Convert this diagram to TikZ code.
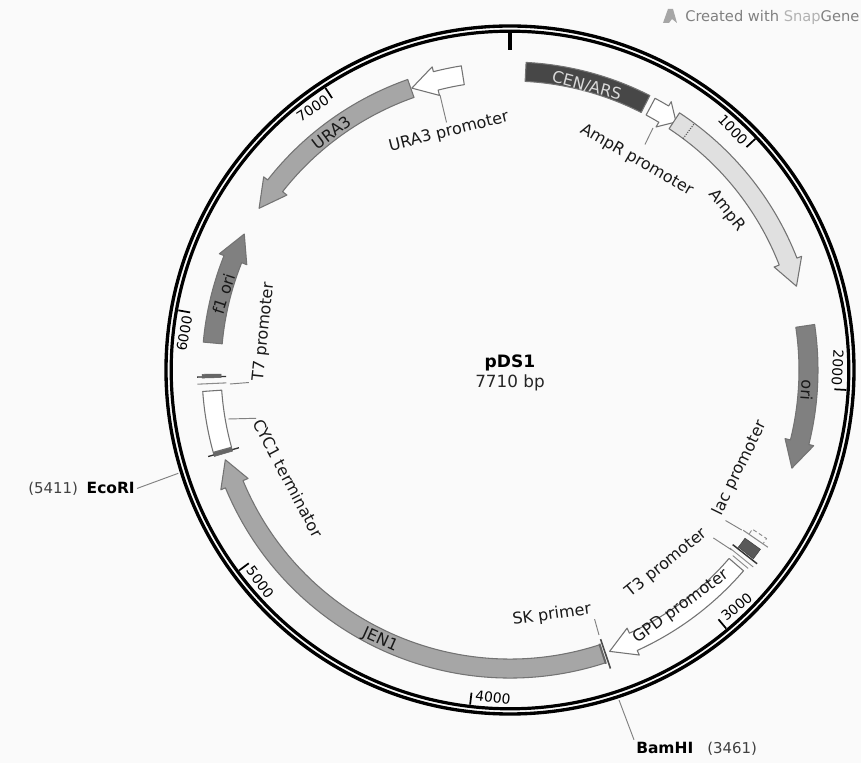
\documentclass[tikz,border=0pt]{standalone}
\usepackage{fontspec}
\setmainfont{DejaVu Sans}
\usepackage{tikz}
\usetikzlibrary{arrows.meta, positioning, calc}

% arc arrow: style, start angle, angle of head base, angle of tip
\newcommand{\featarrow}[4]{
\draw[#1] (#2:308) arc[start angle=#2, end angle=#3, radius=308] -- (#3:313) -- (#4:298.5) -- (#3:283.5) -- (#3:289) arc[start angle=#3, end angle=#2, radius=289] -- cycle;
}
% arc band: style, start angle, end angle
\newcommand{\featband}[3]{
\draw[#1] (#2:308) arc[start angle=#2, end angle=#3, radius=308] -- (#3:289) arc[start angle=#3, end angle=#2, radius=289] -- cycle;
}

\begin{document}
\begin{tikzpicture}[
    x=0.75pt, y=0.75pt,
    feature/.style={draw=black!55, fill=#1, line width=0.8pt, line join=round},
    feature/.default={white},
    leader/.style={draw=black!50, line width=0.7pt},
    tick/.style={black, line width=1.3pt},
    ticklabel/.style={font=\fontsize{10.4}{12}\selectfont, inner sep=3pt},
    label/.style={font=\fontsize{12}{14}\selectfont, text=black!90, inner sep=1.5pt},
    sitename/.style={font=\fontsize{11.6}{14}\selectfont\bfseries, inner sep=1.5pt},
    sitenum/.style={font=\fontsize{11.2}{14}\selectfont, text=black!75, inner sep=1.5pt}
]
\useasboundingbox (-510,-393) rectangle (351,370);
\fill[black!2] (-510,-393) rectangle (351,370);

% === BACKBONE ===
\draw[black, line width=2.5pt] (0,0) circle[radius=344];
\draw[black, line width=2.4pt] (0,0) circle[radius=338.8];
\draw[black, line width=2.8pt] (90:340) -- (90:320);

% === TICKS ===
\draw[tick] (43.3:337) -- (43.3:325);
\draw[tick] (-3.4:337) -- (-3.4:325);
\draw[tick] (-50.1:337) -- (-50.1:325);
\draw[tick] (-96.8:337) -- (-96.8:325);
\draw[tick] (-143.5:337) -- (-143.5:325);
\draw[tick] (169.8:337) -- (169.8:325);
\draw[tick] (123.2:337) -- (123.2:325);

\node[ticklabel, anchor=east, rotate=-46.7] (t1000) at (43.3:327) {1000};
\node[ticklabel, anchor=east, rotate=-93.4] (t2000) at (-3.4:327) {2000};
\node[ticklabel, anchor=west, rotate=39.9] (t3000) at (-50.1:327) {3000};
\node[ticklabel, anchor=west, rotate=-6.8] (t4000) at (-96.8:327) {4000};
\node[ticklabel, anchor=west, rotate=-53.5] (t5000) at (-143.5:327) {5000};
\node[ticklabel, anchor=east, rotate=79.8] (t6000) at (169.8:327) {6000};
\node[ticklabel, anchor=east, rotate=33.2] (t7000) at (123.2:327) {7000};

% === FEATURES ===
\featband{feature=black!72}{87}{63}
\featarrow{feature}{61.9}{59}{56.2}
\featarrow{feature=black!12}{56.6}{21.3}{16.3}
\draw[black!65, densely dotted, line width=0.8pt] (53.2:289) -- (53.2:308);
\featarrow{feature=black!50}{8.5}{-14}{-19.2}
\featarrow{feature}{-40.7}{-65.6}{-70.5}
\featarrow{feature=black!35}{-72}{-157.5}{-162.5}
\featband{feature}{184}{195.5}
\featarrow{feature=black!50}{174.8}{158.2}{152.9}
\featarrow{feature=black!35}{109.4}{141.9}{147.2}
\featarrow{feature}{99.1}{104.4}{109.2}

% small features
\draw[black!70, line width=1.2pt] (-71.4:284) -- (-71.4:315);
\draw[black!60, line width=1.4pt] (-71.9:288) -- (-71.9:309);
\draw[black!80, line width=1pt] (196:282) -- (196:314);
\featband{draw=black!60, fill=black!60}{195.6}{196.3}
\draw[black!80, line width=1pt] (181.3:284) -- (181.3:313);
\featband{draw=black!60, fill=black!60}{180.8}{181.5}
\draw[black!45, line width=0.8pt] (182.6:284) -- (182.6:313);

\draw[black!45, line width=0.8pt] (-34.5:283) -- (-34.5:313);
\draw[black!45, densely dashed, line width=0.7pt] (-34.4:290) -- (-33.3:290) -- (-33.3:307) -- (-34.4:307);
\featband{draw=black!75, fill=black!65}{-35.6}{-37.8}
\draw[black!80, line width=1.1pt] (-38.1:283) -- (-38.1:314);
\draw[black!45, line width=0.7pt] (-39:283) -- (-39:313);
\draw[black!45, line width=0.7pt] (-39.8:290) -- (-39.8:310);

% === LABELS ===
\node[font=\fontsize{12.8}{15}\selectfont\bfseries, inner sep=1pt] (name) at (0,7) {pDS1};
\node[font=\fontsize{12.6}{15}\selectfont, text=black!85, inner sep=1pt] (size) at (0,-13) {7710 bp};

\node[label, text=white!85!black, rotate=-15] (cen) at (74.9:294.5) {CEN/ARS};
\node[label, rotate=14] (uraprom) at (104.4:245.7) {URA3 promoter};
\node[label, rotate=37] (ura) at (126.9:297) {URA3};
\node[label, rotate=-30] (ampprom) at (58.9:245) {AmpR promoter};
\node[label, rotate=-52] (amp) at (36.4:269) {AmpR};
\node[label, rotate=-94] (ori) at (-3.9:297.7) {ori};
\node[label, rotate=64] (lac) at (-23.1:250) {lac promoter};
\node[label, rotate=39] (tthree) at (-50.9:248.6) {T3 promoter};
\node[label, rotate=36] (gpd) at (-54.2:292) {GPD promoter};
\node[label, rotate=8] (sk) at (-80.3:248.6) {SK primer};
\node[label, rotate=-24] (jen) at (244.3:299.7) {JEN1};
\node[label, rotate=-62] (cyc) at (206:246.9) {CYC1 terminator};
\node[label, rotate=84] (tseven) at (171.2:249) {T7 promoter};
\node[label, rotate=72] (fone) at (165.1:296) {f1 ori};

\node[sitename, anchor=base east] (ecori) at (-373,-124) {EcoRI};
\node[sitenum, anchor=base west] (econum) at (-484,-124) {(5411)};
\node[sitename, anchor=base west] (bamhi) at (124,-383.3) {BamHI};
\node[sitenum, anchor=base west] (bamnum) at (195,-383.3) {(3461)};

\node[font=\fontsize{11}{13}\selectfont, text=black!50, anchor=west, inner sep=0pt] (credit) at (175,353) {Created with \textcolor{black!30}{Snap}Gene};
\fill[black!35] (153,347) -- (158,361) -- (163,361) -- (167,347) -- (162,351) -- (159,347) -- cycle;

% === LEADERS ===
\coordinate (urapromend) at (-70,275);
\coordinate (ampromend) at (143,242);
\coordinate (cycend) at (-281.7,-49);
\coordinate (tsevenend) at (-280,-14);
\coordinate (skend) at (89,-265);
\coordinate (lacend) at (231.7,-160);
\coordinate (tthreeend) at (221.7,-180);
\coordinate (ecoend) at (-331.7,-103.3);
\coordinate (bamend) at (109,-330);

\draw[leader] (urapromend) -- (uraprom.north);
\draw[leader, shorten >=6pt] (ampromend) -- (ampprom.north);
\draw[leader] (cycend) -- (cyc.west);
\draw[leader] (tsevenend) -- (tseven.north west);
\draw[leader] (skend) -- (sk.south east);
\draw[leader] (lacend) -- (lac.south west);
\draw[leader] (tthreeend) -- (tthree.south east);
\draw[leader] (ecoend) -- (ecori.east);
\draw[leader] (bamend) -- (bamhi.north west);

\end{tikzpicture}
\end{document}
